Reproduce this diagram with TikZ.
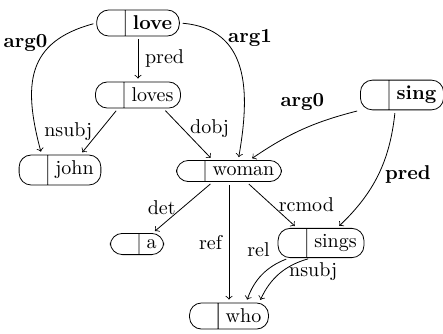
\documentclass[tikz,border=0pt]{standalone}
\usetikzlibrary{arrows, shapes.multipart}

\begin{document}
\begin{tikzpicture}[x=0.5pt, y=0.5pt,
  word/.style={draw, rectangle split, rectangle split horizontal,
    rectangle split parts=2, rounded corners=6pt, inner xsep=3.6pt,
    inner ysep=3pt, rectangle split empty part width=2.6pt},
  dep/.style={->, shorten <=1.5pt, shorten >=1.5pt}]
  \useasboundingbox (0,0) rectangle (443,-333);
  \node[word] (love)  at (138,-23)  {\nodepart{two}\textbf{love}};
  \node[word] (loves) at (138,-95)  {\nodepart{two}loves};
  \node[word] (john)  at (60,-170)  {\nodepart{two}john};
  \node[word] (woman) at (229,-171) {\nodepart{two}woman};
  \node[word] (sing)  at (402,-95)  {\nodepart{two}\textbf{sing}};
  \node[word] (a)     at (137,-244) {\nodepart{two}a};
  \node[word] (sings) at (321,-243) {\nodepart{two}sings};
  \node[word] (who)   at (229,-316) {\nodepart{two}who};

  \draw[dep] (love) -- node[right] {pred} (loves);
  \draw[dep] (love.west) to[out=195, in=105, looseness=1.3]
    node[pos=0.26, left] {\textbf{arg0}} (john.140);
  \draw[dep] (love.east) to[out=-5, in=80, looseness=1.2]
    node[pos=0.26, right] {\textbf{arg1}} (woman.50);
  \draw[dep] (loves.214) -- node[left] {nsubj} (john.37);
  \draw[dep] (loves.-28) -- node[right, pos=0.4] {dobj} (woman.146);
  \draw[dep] (sing.200) to[bend right=10] node[above=6pt] {\textbf{arg0}} (woman.28);
  \draw[dep] (sing.-114) to[bend left=20] node[right] {\textbf{pred}} (sings.43);
  \draw[dep] (woman.214) -- node[left] {det} (a.35);
  \draw[dep] (woman) -- node[left] {ref} (who);
  \draw[dep] (woman.-32) -- node[right] {rcmod} (sings.148);
  \draw[dep] ([xshift=-16pt]sings.south) to[bend right=25]
    node[pos=0.2, above left] {rel} (who.38);
  \draw[dep] ([xshift=-5pt]sings.south) to[bend right=25]
    node[pos=0.45, right] {nsubj} (who.24);
\end{tikzpicture}
\end{document}
